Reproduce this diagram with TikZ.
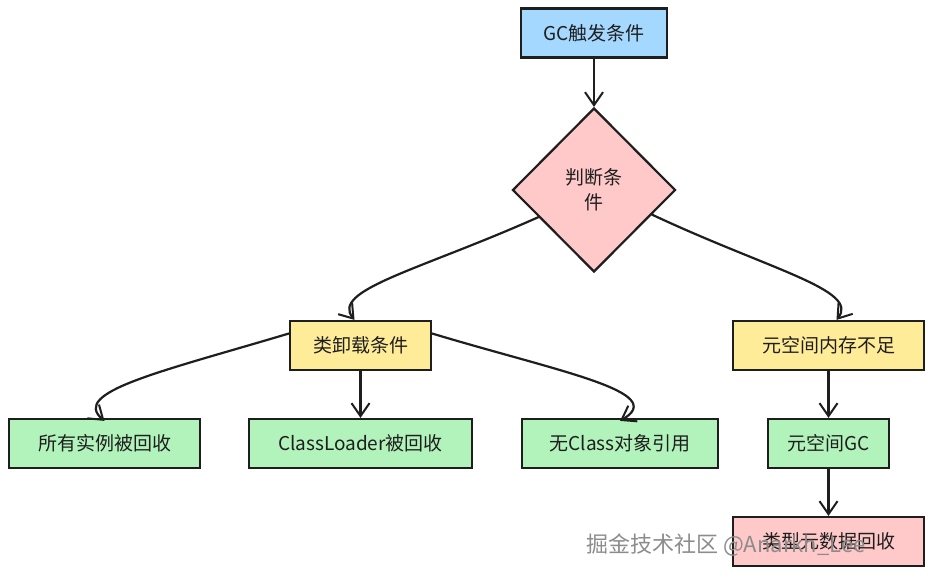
\documentclass[tikz,border=0pt]{standalone}
\usepackage{fontspec}
\setmainfont{Noto Sans CJK SC}
\usetikzlibrary{shapes.geometric,arrows.meta}
\definecolor{cblue}{HTML}{A5D8FF}
\definecolor{cpink}{HTML}{FFC9C9}
\definecolor{cyellow}{HTML}{FFEC99}
\definecolor{cgreen}{HTML}{B2F2BB}
\definecolor{cline}{HTML}{1E1E1E}
\tikzset{
  box/.style={draw=cline, line width=2.2pt, minimum height=49pt, inner sep=0pt,
    font=\fontsize{19}{23}\selectfont, text=cline},
  conn/.style={draw=cline, line width=2.2pt, line cap=round,
    -{Straight Barb[length=13pt,width=18pt,line width=2pt]}},
}
\begin{document}
\begin{tikzpicture}[x=1pt,y=-1pt]
\useasboundingbox (0,0) rectangle (933,576);
\fill[white] (0,0) rectangle (933,576);
\node[box, fill=cblue, minimum width=146pt] (gc) at (594,33) {GC触发条件};
\node[draw=cline, line width=2.2pt, fill=cpink, shape=diamond, aspect=1,
  minimum width=163pt, minimum height=164pt, inner sep=0pt, align=center,
  font=\fontsize{19}{25}\selectfont, text=cline] (d) at (594,190) {判断条\\件};
\node[box, fill=cyellow, minimum width=141pt] (ul) at (360.5,345.5) {类卸载条件};
\node[box, fill=cyellow, minimum width=191pt] (ms) at (828.5,345.5) {元空间内存不足};
\node[box, fill=cgreen, minimum width=191pt] (ai) at (104.5,443.5) {所有实例被回收};
\node[box, fill=cgreen, minimum width=223pt] (cl) at (360.5,443.5) {ClassLoader被回收};
\node[box, fill=cgreen, minimum width=196pt] (nc) at (620,443.5) {无Class对象引用};
\node[box, fill=cgreen, minimum width=121pt] (mg) at (828.5,443.5) {元空间GC};
\node[box, fill=cpink, minimum width=191pt] (md) at (828.5,541.5) {类型元数据回收};

\draw[conn] (gc.south) -- (d.north);
\draw[conn] (d.206) .. controls (420,270) and (330,290) .. ([xshift=-6pt]ul.north);
\draw[conn] (d.-23) .. controls (770,270) and (860,290) .. ([xshift=8pt]ms.north);
\draw[conn] ([yshift=12pt]ul.west) .. controls (160,372) and (70,392) .. ([yshift=-3pt]ai.north);
\draw[conn] (ul.south) -- (cl.north);
\draw[conn] ([yshift=12pt]ul.east) .. controls (560,372) and (670,392) .. ([yshift=-3pt]nc.north);
\draw[conn] (ms.south) -- (mg.north);
\draw[conn] (mg.south) -- (md.north);

\node[text=black!45, font=\fontsize{22}{26}\selectfont, anchor=west, inner sep=0pt] (wm) at (586,545) {掘金技术社区 @Anarkh\_Lee};
\end{tikzpicture}
\end{document}
